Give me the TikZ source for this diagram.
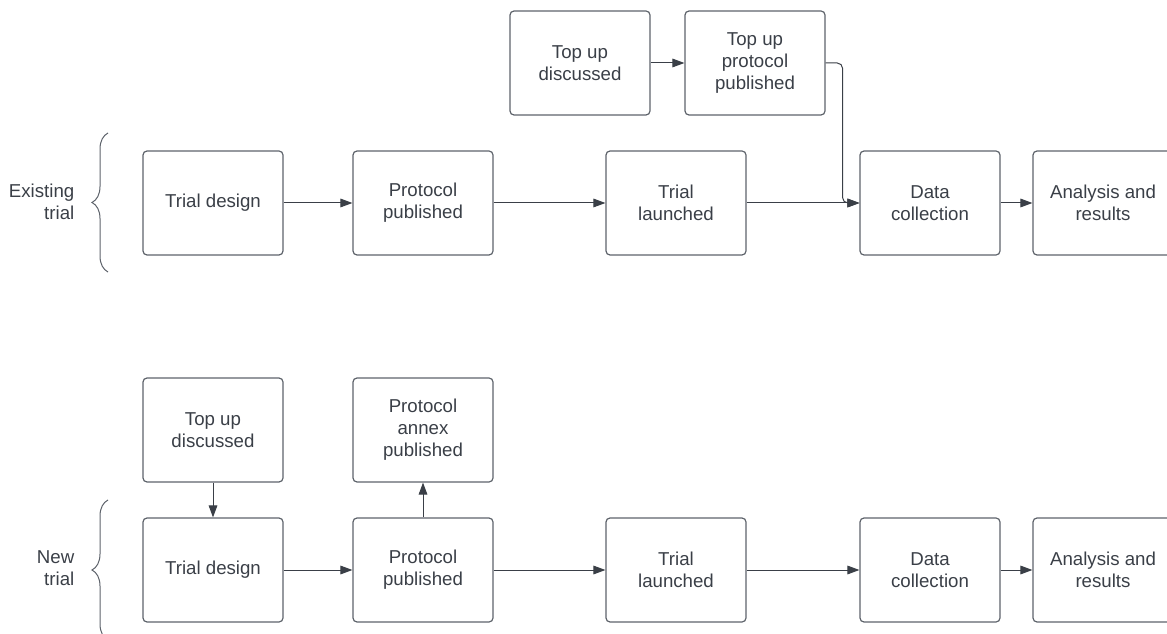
\documentclass[tikz,border=0pt]{standalone}
\usepackage{fontspec}
\setmainfont{Liberation Sans}
\usetikzlibrary{positioning,arrows.meta,decorations.pathreplacing}
\definecolor{boxline}{HTML}{5E636B}
\definecolor{inkgray}{HTML}{3A3F47}

\begin{document}
\begin{tikzpicture}[x=0.75pt,y=-0.75pt,>={Triangle[length=9pt,width=6.5pt]},
  stage/.style={draw=boxline,line width=0.9pt,rounded corners=3pt,minimum width=105pt,minimum height=78pt,align=center,text=inkgray,font=\fontsize{14}{16.5}\selectfont},
  lane/.style={align=right,anchor=east,text=inkgray,font=\fontsize{14}{16.5}\selectfont},
  link/.style={->,draw=inkgray,line width=0.75pt},
  bracket/.style={draw=boxline,line width=0.75pt,decorate,decoration={brace,amplitude=12pt}}]
\useasboundingbox (0,0) rectangle (1167,634);
\clip (0,0) rectangle (1167,634);

% existing trial
\node (ex) [lane] at (79,202) {Existing\\trial};
\coordinate (exb) at (108,272);
\coordinate (ext) at (108,133);
\draw[bracket] (exb) -- (ext);
\node (td1) [stage] at (213,203) {Trial design};
\node (pp1) [stage] at (423,203) {Protocol\\published};
\node (tl1) [stage] at (676,203) {Trial\\launched};
\node (dc1) [stage] at (930,203) {Data\\collection};
\node (ar1) [stage] at (1103,203) {Analysis and\\results};
\node (tud1) [stage] at (580,63) {Top up\\discussed};
\node (tpp1) [stage] at (755,63) {Top up\\protocol\\published};
\draw[link] (td1) -- (pp1);
\draw[link] (pp1) -- (tl1);
\draw[link] (tl1) -- (dc1);
\draw[link] (dc1) -- (ar1);
\draw[link] (tud1) -- (tpp1);
\draw[link,rounded corners=4pt] (tpp1.east) -- ++(17,0) |- (dc1.west);

% new trial
\node (nw) [lane] at (79,568) {New\\trial};
\coordinate (nwb) at (108,640);
\coordinate (nwt) at (108,500);
\draw[bracket] (nwb) -- (nwt);
\node (td2) [stage] at (213,570) {Trial design};
\node (pp2) [stage] at (423,570) {Protocol\\published};
\node (tl2) [stage] at (676,570) {Trial\\launched};
\node (dc2) [stage] at (930,570) {Data\\collection};
\node (ar2) [stage] at (1103,570) {Analysis and\\results};
\node (tud2) [stage] at (213,430) {Top up\\discussed};
\node (pap2) [stage] at (423,430) {Protocol\\annex\\published};
\draw[link] (td2) -- (pp2);
\draw[link] (pp2) -- (tl2);
\draw[link] (tl2) -- (dc2);
\draw[link] (dc2) -- (ar2);
\draw[link] (tud2) -- (td2);
\draw[link] (pp2) -- (pap2);
\end{tikzpicture}
\end{document}
